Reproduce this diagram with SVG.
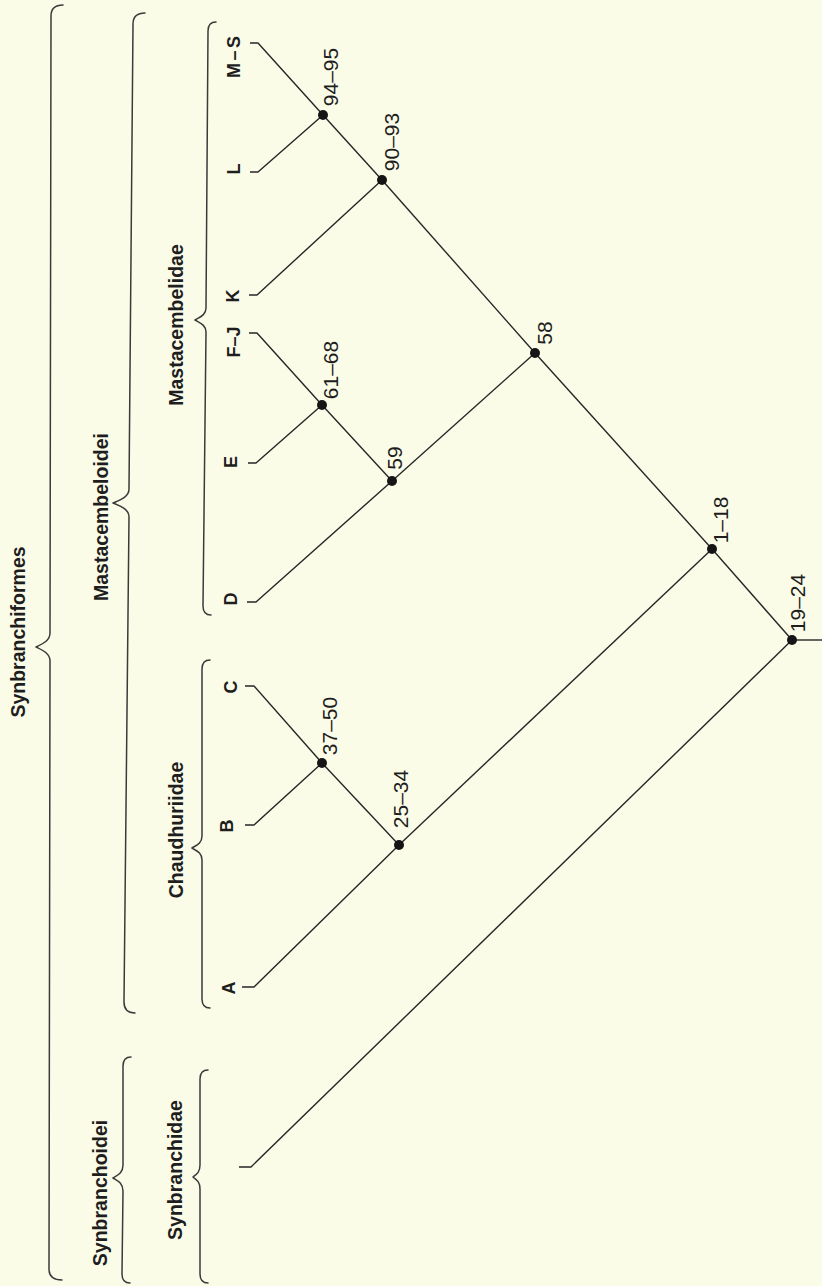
<svg xmlns="http://www.w3.org/2000/svg" width="822" height="1286" viewBox="0 0 822 1286">
<style>
.bg{fill:#fbfce8}
.brace{fill:none;stroke:#3a3a3a;stroke-width:1.5;stroke-linecap:round;stroke-linejoin:round}
.edge{fill:none;stroke:#262626;stroke-width:1.4;stroke-linejoin:round}
.dot{fill:#151515}
.taxon{font-family:"Liberation Sans",Arial,sans-serif;font-weight:bold;font-size:19.5px;fill:#1e1e1e;text-anchor:middle}
.tip{font-family:"Liberation Sans",Arial,sans-serif;font-weight:bold;font-size:18px;fill:#1e1e1e;text-anchor:middle}
.num{font-family:"Liberation Sans",Arial,sans-serif;font-size:21px;fill:#1e1e1e;text-anchor:middle}
</style>
<rect class="bg" x="0" y="0" width="822" height="1286"/>

<g id="brace-synbranchiformes">
<path class="brace" d="M63,5 Q51,5 51,16 L50,633 C50,641 42,644 36,647 C42,650 50,653 50,661 L49,1269 Q49,1280 62,1280"/>
<text class="taxon" transform="translate(25,632) rotate(-90)">Synbranchiformes</text>
</g>
<g id="brace-mastacembeloidei">
<path class="brace" d="M145,13 Q133,13 133,24 L129,489 C129,497 120,500 113,503 C120,506 129,509 129,517 L124,1002 Q124,1013 135,1013"/>
<text class="taxon" transform="translate(108,517) rotate(-90)">Mastacembeloidei</text>
</g>
<g id="brace-synbranchoidei">
<path class="brace" d="M131,1057 Q123,1057 123,1066 L123,1165 C123,1173 118,1175 113,1178 C118,1181 123,1183 123,1191 L122,1274 Q122,1283 130,1283"/>
<text class="taxon" transform="translate(107,1193) rotate(-90)">Synbranchoidei</text>
</g>
<g id="brace-mastacembelidae">
<path class="brace" d="M216,22 Q208,22 208,31 L206,308 C206,315 200,317 195,320 C200,323 206,325 206,332 L203,606 Q203,615 211,615"/>
<text class="taxon" transform="translate(183,325) rotate(-90)">Mastacembelidae</text>
</g>
<g id="brace-chaudhuriidae">
<path class="brace" d="M210,660 Q202,660 202,669 L202,836 C202,843 197,845 192,848 C197,851 202,853 202,860 L202,999 Q202,1008 210,1008"/>
<text class="taxon" transform="translate(183,830) rotate(-90)">Chaudhuriidae</text>
</g>
<g id="brace-synbranchidae">
<path class="brace" d="M208,1070 Q200,1070 200,1079 L200,1165 C200,1172 197,1174 193,1177 C197,1180 200,1182 200,1189 L200,1274 Q200,1283 208,1283"/>
<text class="taxon" transform="translate(182,1170) rotate(-90)">Synbranchidae</text>
</g>

<g id="connectors">
<path class="edge" d="M250,43 H258 L323,115"/>
<path class="edge" d="M250,172 H258 L323,115"/>
<path class="edge" d="M323,115 L382,180"/>
<path class="edge" d="M249,295 H257 L382,180"/>
<path class="edge" d="M382,180 L535,353"/>
<path class="edge" d="M249,333 H257 L322,405"/>
<path class="edge" d="M248,463 H256 L322,405"/>
<path class="edge" d="M322,405 L392,481"/>
<path class="edge" d="M247,602 H256 L392,481"/>
<path class="edge" d="M392,481 L535,353"/>
<path class="edge" d="M535,353 L712,549"/>
<path class="edge" d="M245,686 H254 L322,763"/>
<path class="edge" d="M245,825 H254 L322,763"/>
<path class="edge" d="M322,763 L399,845"/>
<path class="edge" d="M242,987 H254 L399,845"/>
<path class="edge" d="M399,845 L712,549"/>
<path class="edge" d="M712,549 L792,640"/>
<path class="edge" d="M239,1167 H251 L792,640"/>
<path class="edge" d="M792,640 H822"/>
</g>

<g id="tip-MS"><text class="tip" transform="translate(240,57) rotate(-90)" textLength="42" lengthAdjust="spacing">M–S</text></g>
<g id="tip-L"><text class="tip" transform="translate(240,169) rotate(-90)">L</text></g>
<g id="tip-K"><text class="tip" transform="translate(239,296) rotate(-90)">K</text></g>
<g id="tip-FJ"><text class="tip" transform="translate(240,342) rotate(-90)">F–J</text></g>
<g id="tip-E"><text class="tip" transform="translate(237,462) rotate(-90)">E</text></g>
<g id="tip-D"><text class="tip" transform="translate(237,599) rotate(-90)">D</text></g>
<g id="tip-C"><text class="tip" transform="translate(237,687) rotate(-90)">C</text></g>
<g id="tip-B"><text class="tip" transform="translate(233,826) rotate(-90)">B</text></g>
<g id="tip-A"><text class="tip" transform="translate(235,988) rotate(-90)">A</text></g>

<g id="node-94-95"><circle class="dot" cx="323" cy="115" r="5"/><text class="num" transform="translate(338,77) rotate(-90)">94–95</text></g>
<g id="node-90-93"><circle class="dot" cx="382" cy="180" r="5"/><text class="num" transform="translate(399,142) rotate(-90)">90–93</text></g>
<g id="node-61-68"><circle class="dot" cx="322" cy="405" r="5"/><text class="num" transform="translate(338,370) rotate(-90)">61–68</text></g>
<g id="node-58"><circle class="dot" cx="535" cy="353" r="5"/><text class="num" transform="translate(552,333) rotate(-90)">58</text></g>
<g id="node-59"><circle class="dot" cx="392" cy="481" r="5"/><text class="num" transform="translate(402,458) rotate(-90)">59</text></g>
<g id="node-37-50"><circle class="dot" cx="322" cy="763" r="5"/><text class="num" transform="translate(337,726) rotate(-90)">37–50</text></g>
<g id="node-25-34"><circle class="dot" cx="399" cy="845" r="5"/><text class="num" transform="translate(408,799) rotate(-90)">25–34</text></g>
<g id="node-1-18"><circle class="dot" cx="712" cy="549" r="5"/><text class="num" transform="translate(728,520) rotate(-90)">1–18</text></g>
<g id="node-19-24"><circle class="dot" cx="792" cy="640" r="5"/><text class="num" transform="translate(805,603) rotate(-90)">19–24</text></g>
</svg>
